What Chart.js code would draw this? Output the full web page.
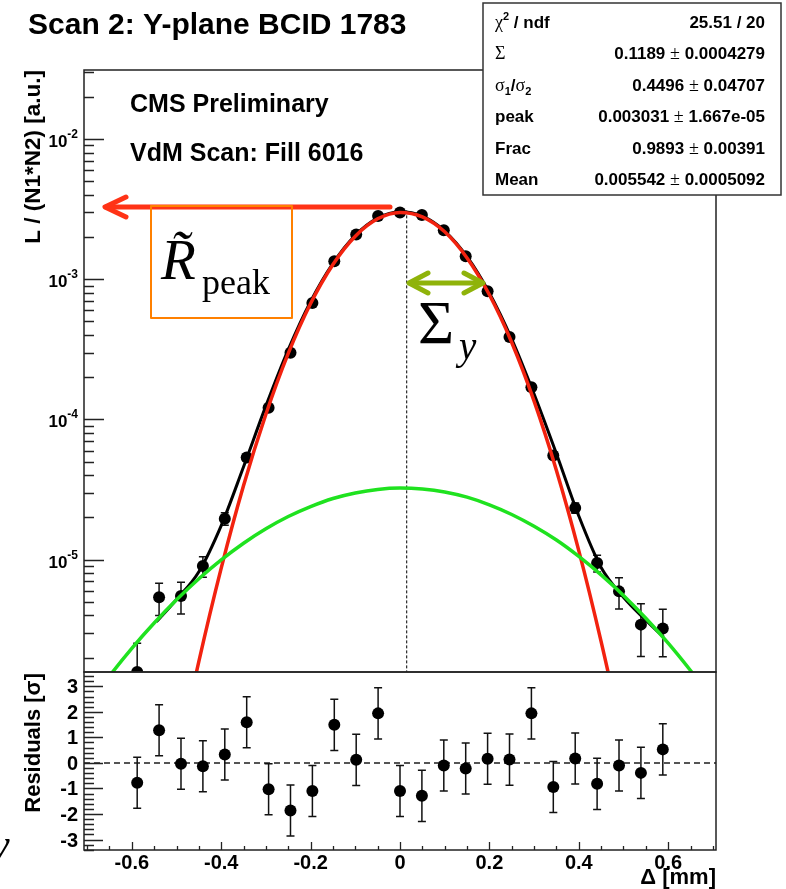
<!DOCTYPE html>
<html>
<head>
<meta charset="utf-8">
<script src="https://cdn.jsdelivr.net/npm/chart.js@4.4.1/dist/chart.umd.min.js"></script>
<style>
  html, body { margin: 0; padding: 0; background: #fff; }
  #wrap { position: relative; width: 786px; height: 889px; overflow: hidden; }
  canvas { position: absolute; left: 0; top: 0; }
</style>
</head>
<body>
<div id="wrap">
  <canvas id="mainChart" width="786" height="889"></canvas>
  <canvas id="resChart" width="786" height="889"></canvas>
</div>
<script>
const X_MIN = -0.707;
const X_MAX = 0.707;
const Y_MIN = 1.58e-6;
const Y_MAX = 0.0311;
const RES_MIN = -3.41;
const RES_MAX = 3.56;

// scan points
const scanX = [-0.588, -0.539, -0.490, -0.441, -0.392, -0.343, -0.294, -0.245, -0.196, -0.147, -0.098, -0.049,
  0.000, 0.049, 0.098, 0.147, 0.196, 0.245, 0.294, 0.343, 0.392, 0.441, 0.490, 0.539, 0.588];
const rateY = [1.58e-6, 5.4e-6, 5.5e-6, 9.0e-6, 1.96e-5, 5.35e-5, 1.21e-4, 2.99e-4, 6.78e-4, 1.345e-3, 2.09e-3, 2.83e-3,
  3.0e-3, 2.87e-3, 2.24e-3, 1.46e-3, 8.2e-4, 3.87e-4, 1.70e-4, 5.53e-5, 2.34e-5, 9.46e-6, 5.94e-6, 3.44e-6, 3.23e-6];
const rateErr = [0.95e-6, 1.4e-6, 1.4e-6, 1.5e-6, 2.0e-6, 3e-6, 5e-6, 8e-6, 1.1e-5, 1.4e-5, 1.6e-5, 1.7e-5,
  1.7e-5, 1.7e-5, 1.6e-5, 1.4e-5, 1.1e-5, 8e-6, 5e-6, 3e-6, 2e-6, 1.3e-6, 1.5e-6, 1.4e-6, 1.2e-6];
const residY = [-0.78, 1.28, -0.03, -0.13, 0.33, 1.59, -1.03, -1.86, -1.10, 1.49, 0.12, 1.94,
  -1.10, -1.29, -0.10, -0.22, 0.16, 0.13, 1.94, -0.94, 0.17, -0.82, -0.10, -0.39, 0.53];
const residErr = [1, 1, 1, 1, 1, 1, 1, 1, 1, 1, 1, 1, 1, 1, 1, 1, 1, 1, 1, 1, 1, 1, 1, 1, 1];

// fit curves
const fitX = [-0.545, -0.50, -0.45, -0.40, -0.35, -0.30, -0.25, -0.20, -0.15, -0.10, -0.05, 0.00,
  0.05, 0.10, 0.15, 0.20, 0.25, 0.30, 0.35, 0.40, 0.45, 0.50, 0.55, 0.59];
const fitY = [3.6e-6, 5.2e-6, 8.2e-6, 1.75e-5, 4.6e-5, 1.25e-4, 3.15e-4, 6.95e-4, 1.30e-3, 2.06e-3, 2.73e-3, 3.03e-3,
  2.82e-3, 2.21e-3, 1.45e-3, 8.0e-4, 3.75e-4, 1.52e-4, 5.7e-5, 2.05e-5, 8.8e-6, 5.4e-6, 3.7e-6, 2.8e-6];
const narrowX = [-0.55, -0.50, -0.45, -0.40, -0.35, -0.30, -0.25, -0.20, -0.15, -0.10, -0.05, 0.00,
  0.05, 0.10, 0.15, 0.20, 0.25, 0.30, 0.35, 0.40, 0.45, 0.50, 0.55];
const narrowY = [5.2e-8, 3.4e-7, 1.88e-6, 8.7e-6, 3.38e-5, 1.09e-4, 2.96e-4, 6.72e-4, 1.276e-3, 2.03e-3, 2.70e-3, 3.0e-3,
  2.79e-3, 2.18e-3, 1.42e-3, 7.75e-4, 3.54e-4, 1.35e-4, 4.33e-5, 1.16e-5, 2.6e-6, 4.9e-7, 7.6e-8];
const wideX = [-0.70, -0.65, -0.60, -0.55, -0.50, -0.45, -0.40, -0.35, -0.30, -0.25, -0.20, -0.15, -0.10, -0.05, 0.00,
  0.05, 0.10, 0.15, 0.20, 0.25, 0.30, 0.35, 0.40, 0.45, 0.50, 0.55, 0.60, 0.65, 0.70];
const wideY = [9.1e-7, 1.48e-6, 2.33e-6, 3.53e-6, 5.17e-6, 7.31e-6, 9.96e-6, 1.31e-5, 1.66e-5, 2.03e-5, 2.39e-5, 2.73e-5, 2.99e-5, 3.17e-5, 3.24e-5,
  3.19e-5, 3.04e-5, 2.79e-5, 2.46e-5, 2.10e-5, 1.73e-5, 1.38e-5, 1.055e-5, 7.79e-6, 5.56e-6, 3.82e-6, 2.54e-6, 1.62e-6, 1.0e-6];

// axis ticks
const logTickValues = [1e-5, 1e-4, 1e-3, 1e-2];
const logTickExponents = ["-5", "-4", "-3", "-2"];
const deltaTickValues = [-0.6, -0.4, -0.2, 0, 0.2, 0.4, 0.6];
const deltaTickLabels = ["-0.6", "-0.4", "-0.2", "0", "0.2", "0.4", "0.6"];
const residTickValues = [-3, -2, -1, 0, 1, 2, 3];
const residTickLabels = ["-3", "-2", "-1", "0", "1", "2", "3"];

const statsValues = ["25.51 / 20", "0.1189 \u00b1 0.0004279", "0.4496 \u00b1 0.04707",
  "0.003031 \u00b1 1.667e-05", "0.9893 \u00b1 0.00391", "0.005542 \u00b1 0.0005092"];

const FRAME_LEFT = 84;
const FRAME_RIGHT = 716;
const MAIN_TOP = 70;
const PAD_SPLIT = 672;
const RES_BOTTOM = 850;
const SANS = "'Liberation Sans', Arial, sans-serif";
const SERIF = "'Liberation Serif', 'Times New Roman', serif";

const toPoints = (xs, ys) => xs.map((x, i) => ({ x, y: ys[i] }));

const drawText = (ctx, text, x, y, opts = {}) => {
  ctx.save();
  ctx.translate(x, y);
  if (opts.rotate) ctx.rotate(opts.rotate);
  ctx.font = opts.font;
  ctx.fillStyle = opts.color || "#000";
  ctx.textAlign = opts.align || "left";
  ctx.textBaseline = opts.baseline || "alphabetic";
  ctx.fillText(text, 0, 0);
  ctx.restore();
};

const textWidth = (ctx, text, font) => {
  ctx.save();
  ctx.font = font;
  const w = ctx.measureText(text).width;
  ctx.restore();
  return w;
};

// draw a run of pieces left to right: [{t, font, dy}]
const drawRun = (ctx, pieces, x, y) => {
  let cx = x;
  pieces.forEach((p) => {
    drawText(ctx, p.t, cx, y + (p.dy || 0), { font: p.font });
    cx += textWidth(ctx, p.t, p.font);
  });
};

const drawRunRight = (ctx, pieces, right, y) => {
  const total = pieces.reduce((sum, p) => sum + textWidth(ctx, p.t, p.font), 0);
  drawRun(ctx, pieces, right - total, y);
};

const clipTo = (ctx, area) => {
  ctx.beginPath();
  ctx.rect(area.left, area.top, area.right - area.left, area.bottom - area.top);
  ctx.clip();
};

const drawErrorBars = (chart, ys, errs, cap) => {
  const { ctx, chartArea, scales } = chart;
  ctx.save();
  clipTo(ctx, chartArea);
  ctx.strokeStyle = "#111";
  ctx.lineWidth = 1.5;
  scanX.forEach((xv, i) => {
    const px = scales.x.getPixelForValue(xv);
    const top = scales.y.getPixelForValue(ys[i] + errs[i]);
    const bottom = scales.y.getPixelForValue(ys[i] - errs[i]);
    ctx.beginPath();
    ctx.moveTo(px, top);
    ctx.lineTo(px, bottom);
    ctx.moveTo(px - cap, top);
    ctx.lineTo(px + cap, top);
    ctx.moveTo(px - cap, bottom);
    ctx.lineTo(px + cap, bottom);
    ctx.stroke();
  });
  ctx.restore();
};

const drawArrowHead = (ctx, tipX, tipY, dir, len, spread) => {
  ctx.beginPath();
  ctx.moveTo(tipX + dir * len, tipY - spread);
  ctx.lineTo(tipX, tipY);
  ctx.lineTo(tipX + dir * len, tipY + spread);
  ctx.stroke();
};

const mainDecor = {
  id: "mainDecor",
  beforeDatasetsDraw(chart) {
    const { ctx, scales } = chart;
    drawErrorBars(chart, rateY, rateErr, 4);
    // vertical dashed line at the mean
    const mx = scales.x.getPixelForValue(0.015);
    ctx.save();
    ctx.strokeStyle = "#000";
    ctx.lineWidth = 1;
    ctx.setLineDash([3, 2]);
    ctx.beginPath();
    ctx.moveTo(mx, scales.y.getPixelForValue(3.1e-3));
    ctx.lineTo(mx, PAD_SPLIT);
    ctx.stroke();
    ctx.restore();
  },
  afterDraw(chart) {
    const { ctx, scales } = chart;
    const yScale = scales.y;

    // frame
    ctx.save();
    ctx.strokeStyle = "#222";
    ctx.lineWidth = 1.5;
    ctx.strokeRect(FRAME_LEFT, MAIN_TOP, FRAME_RIGHT - FRAME_LEFT, PAD_SPLIT - MAIN_TOP);

    // log ticks, drawn inside the frame
    ctx.lineWidth = 1.3;
    ctx.beginPath();
    for (let e = -6; e <= -1; e++) {
      for (let m = 1; m <= 9; m++) {
        const v = m * Math.pow(10, e);
        if (v < Y_MIN || v > Y_MAX) continue;
        const py = Math.round(yScale.getPixelForValue(v)) + 0.5;
        ctx.moveTo(FRAME_LEFT, py);
        ctx.lineTo(FRAME_LEFT + (m === 1 ? 20 : 10), py);
      }
    }
    ctx.stroke();
    ctx.restore();

    logTickValues.forEach((v, i) => {
      const py = yScale.getPixelForValue(v);
      const supFont = "bold 12px " + SANS;
      const baseFont = "bold 17px " + SANS;
      const supW = textWidth(ctx, logTickExponents[i], supFont);
      const baseW = textWidth(ctx, "10", baseFont);
      const right = 78;
      drawText(ctx, "10", right - supW - baseW, py + 8, { font: baseFont });
      drawText(ctx, logTickExponents[i], right - supW, py - 1, { font: supFont });
    });

    // axis title
    drawText(ctx, "L / (N1*N2) [a.u.]", 40, MAIN_TOP, {
      font: "bold 22.5px " + SANS, rotate: -Math.PI / 2, align: "right",
    });

    // titles
    drawText(ctx, "Scan 2: Y-plane BCID 1783", 28, 34, { font: "bold 30px " + SANS });
    drawText(ctx, "CMS Preliminary", 130, 112, { font: "bold 25px " + SANS });
    drawText(ctx, "VdM Scan: Fill 6016", 130, 161, { font: "bold 25px " + SANS });

    // R peak annotation
    ctx.save();
    ctx.lineCap = "round";
    ctx.lineJoin = "round";
    ctx.strokeStyle = "#ff3316";
    ctx.lineWidth = 5;
    ctx.beginPath();
    ctx.moveTo(390, 207);
    ctx.lineTo(106, 207);
    ctx.stroke();
    drawArrowHead(ctx, 105, 207, 1, 21, 10);
    ctx.strokeStyle = "#ff8000";
    ctx.lineWidth = 2;
    ctx.strokeRect(151, 206, 141, 112);

    // Sigma arrow
    ctx.strokeStyle = "#8fb30a";
    ctx.lineWidth = 5;
    ctx.beginPath();
    ctx.moveTo(410, 283);
    ctx.lineTo(482, 283);
    ctx.stroke();
    drawArrowHead(ctx, 409, 283, 1, 19, 10);
    drawArrowHead(ctx, 483, 283, -1, 19, 10);
    ctx.restore();

    drawText(ctx, "R\u0303", 161, 279, { font: "italic 57px " + SERIF });
    drawText(ctx, "peak", 202, 294, { font: "36px " + SERIF });
    drawText(ctx, "\u03a3", 418, 343, { font: "62px " + SERIF });
    drawText(ctx, "y", 459, 359, { font: "italic 39px " + SERIF });

    // stats box
    const bx = 483, by = 3, bw = 298, bh = 192;
    ctx.save();
    ctx.fillStyle = "#fff";
    ctx.fillRect(bx, by, bw, bh);
    ctx.strokeStyle = "#333";
    ctx.lineWidth = 1.5;
    ctx.strokeRect(bx, by, bw, bh);
    ctx.restore();

    const sf = "bold 17px " + SANS;
    const gf = "18px " + SERIF;
    const small = "bold 11px " + SANS;
    const statsLabels = [
      [{ t: "\u03c7", font: gf }, { t: "2", font: small, dy: -8 }, { t: " / ndf", font: sf }],
      [{ t: "\u03a3", font: gf }],
      [{ t: "\u03c3", font: gf }, { t: "1", font: small, dy: 4 }, { t: "/", font: sf },
        { t: "\u03c3", font: gf }, { t: "2", font: small, dy: 4 }],
      [{ t: "peak", font: sf }],
      [{ t: "Frac", font: sf }],
      [{ t: "Mean", font: sf }],
    ];
    statsLabels.forEach((pieces, i) => {
      const rowY = 28 + i * 31.4;
      drawRun(ctx, pieces, 495, rowY);
      const parts = statsValues[i].split(" \u00b1 ");
      const valuePieces = parts.length === 2
        ? [{ t: parts[0] + " ", font: sf }, { t: "\u00b1", font: gf }, { t: " " + parts[1], font: sf }]
        : [{ t: parts[0], font: sf }];
      drawRunRight(ctx, valuePieces, 765, rowY);
    });
  },
};

const resDecor = {
  id: "resDecor",
  beforeDatasetsDraw(chart) {
    const { ctx, scales } = chart;
    const zy = scales.y.getPixelForValue(0);
    ctx.save();
    ctx.strokeStyle = "#555";
    ctx.lineWidth = 2;
    ctx.setLineDash([6, 4]);
    ctx.beginPath();
    ctx.moveTo(FRAME_LEFT, zy);
    ctx.lineTo(FRAME_RIGHT, zy);
    ctx.stroke();
    ctx.restore();
    drawErrorBars(chart, residY, residErr, 4);
  },
  afterDraw(chart) {
    const { ctx, scales } = chart;
    ctx.save();
    ctx.strokeStyle = "#222";
    ctx.lineWidth = 1.5;
    ctx.strokeRect(FRAME_LEFT, PAD_SPLIT, FRAME_RIGHT - FRAME_LEFT, RES_BOTTOM - PAD_SPLIT);

    ctx.lineWidth = 1.3;
    ctx.beginPath();
    for (let k = -17; k <= 17; k++) {
      const v = k * 0.2;
      if (v < RES_MIN || v > RES_MAX) continue;
      const py = Math.round(scales.y.getPixelForValue(v)) + 0.5;
      const major = k % 5 === 0;
      ctx.moveTo(FRAME_LEFT, py);
      ctx.lineTo(FRAME_LEFT + (major ? 19 : 10), py);
    }
    for (let k = -14; k <= 14; k++) {
      const v = k * 0.05;
      if (v < X_MIN || v > X_MAX) continue;
      const px = Math.round(scales.x.getPixelForValue(v)) + 0.5;
      const major = k % 4 === 0;
      ctx.moveTo(px, RES_BOTTOM);
      ctx.lineTo(px, RES_BOTTOM - (major ? 8 : 4));
    }
    ctx.stroke();
    ctx.restore();

    residTickValues.forEach((v, i) => {
      drawText(ctx, residTickLabels[i], 78, scales.y.getPixelForValue(v) + 7, {
        font: "bold 20px " + SANS, align: "right",
      });
    });
    deltaTickValues.forEach((v, i) => {
      drawText(ctx, deltaTickLabels[i], scales.x.getPixelForValue(v), 869, {
        font: "bold 20px " + SANS, align: "center",
      });
    });

    drawText(ctx, "\u0394 [mm]", FRAME_RIGHT, 884, { font: "bold 22px " + SANS, align: "right" });
    drawText(ctx, "Residuals [\u03c3]", 40, PAD_SPLIT + 1, {
      font: "bold 22px " + SANS, rotate: -Math.PI / 2, align: "right",
    });
    drawText(ctx, "y", -9, 858, { font: "italic 42px " + SERIF });
  },
};

const baseOptions = (padding, yScale) => ({
  responsive: false,
  animation: false,
  devicePixelRatio: 1,
  layout: { padding },
  plugins: { legend: { display: false }, tooltip: { enabled: false } },
  scales: {
    x: { type: "linear", min: X_MIN, max: X_MAX, display: false },
    y: yScale,
  },
});

const curve = (xs, ys, color, width) => ({
  data: toPoints(xs, ys),
  borderColor: color,
  borderWidth: width,
  pointRadius: 0,
  fill: false,
  cubicInterpolationMode: "monotone",
});

const mainChart = new Chart(document.getElementById("mainChart"), {
  type: "line",
  data: {
    datasets: [
      curve(wideX, wideY, "#1fe21f", 3.5),
      curve(narrowX, narrowY, "#f2220f", 3.5),
      curve(fitX, fitY, "#000", 3),
      {
        data: toPoints(scanX, rateY),
        showLine: false,
        pointRadius: 6,
        pointBackgroundColor: "#000",
        pointBorderWidth: 0,
      },
    ],
  },
  options: baseOptions(
    { left: FRAME_LEFT, right: 786 - FRAME_RIGHT, top: MAIN_TOP, bottom: 889 - PAD_SPLIT },
    { type: "logarithmic", min: Y_MIN, max: Y_MAX, display: false }
  ),
  plugins: [mainDecor],
});

const resChart = new Chart(document.getElementById("resChart"), {
  type: "line",
  data: {
    datasets: [
      {
        data: toPoints(scanX, residY),
        showLine: false,
        pointRadius: 6,
        pointBackgroundColor: "#000",
        pointBorderWidth: 0,
      },
    ],
  },
  options: baseOptions(
    { left: FRAME_LEFT, right: 786 - FRAME_RIGHT, top: PAD_SPLIT, bottom: 889 - RES_BOTTOM },
    { type: "linear", min: RES_MIN, max: RES_MAX, display: false }
  ),
  plugins: [resDecor],
});
</script>
</body>
</html>
